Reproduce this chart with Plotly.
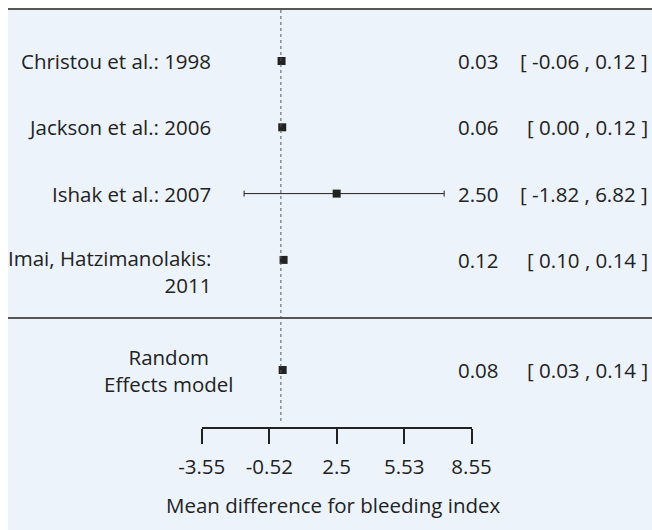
import plotly.graph_objects as go

studies = ["Christou et al.: 1998", "Jackson et al.: 2006", "Ishak et al.: 2007",
           "Imai, Hatzimanolakis:<br>2011"]
study_est = [0.03, 0.06, 2.50, 0.12]
# drawn whisker ends
study_lo = [-0.06, 0.00, -1.65, 0.10]
study_hi = [0.12, 0.12, 7.32, 0.14]
study_est_txt = ["0.03", "0.06", "2.50", "0.12"]
study_ci_txt = ["[ -0.06 , 0.12 ]", "[ 0.00 , 0.12 ]", "[ -1.82 , 6.82 ]", "[ 0.10 , 0.14 ]"]

summary_label = "Random<br>Effects model"
summary_est = 0.08
summary_lo = 0.03
summary_hi = 0.14
summary_est_txt = "0.08"
summary_ci_txt = "[ 0.03 , 0.14 ]"

tick_vals = [-3.55, -0.52, 2.5, 5.53, 8.55]
tick_text = ["-3.55", "-0.52", "2.5", "5.53", "8.55"]
x_title = "Mean difference for bleeding index"

W, H = 652, 530
BG = "#ECF3FB"
INK = "#222222"
FONT = "Open Sans"
FS = 20.5
EDGE = 8  # white border at left / top

# pixel mapping (page coordinates, body margin removed)
px_per_unit = 22.3
x0_px = 280.9
row0_px, row_step = 61, 66.3
yr = [(H - row0_px) / row_step, -row0_px / row_step]
sum_row = (370 - row0_px) / row_step

rows = list(range(len(studies)))

fig = go.Figure()
fig.add_trace(go.Scatter(
    x=study_est, y=rows, mode="markers", xaxis="x2", yaxis="y", cliponaxis=False,
    marker=dict(symbol="square", size=8, color=INK),
    error_x=dict(type="data", symmetric=False,
                 array=[h - e for h, e in zip(study_hi, study_est)],
                 arrayminus=[e - l for l, e in zip(study_lo, study_est)],
                 color=INK, thickness=1, width=3),
    hoverinfo="skip", showlegend=False))
fig.add_trace(go.Scatter(
    x=[summary_est], y=[sum_row], mode="markers", xaxis="x2", yaxis="y", cliponaxis=False,
    marker=dict(symbol="square", size=8, color=INK),
    error_x=dict(type="data", symmetric=False,
                 array=[summary_hi - summary_est], arrayminus=[summary_est - summary_lo],
                 color=INK, thickness=1, width=3),
    hoverinfo="skip", showlegend=False))

anns = []
for i, lab in enumerate(studies):
    yy = i if i < 3 else i + 11.5 / row_step
    anns.append(dict(x=213 / W, xref="paper", y=yy, yref="y", text=lab,
                     xanchor="right", align="right", showarrow=False))
    anns.append(dict(x=456 / W, xref="paper", y=i, yref="y", text=study_est_txt[i],
                     xanchor="left", showarrow=False))
    anns.append(dict(x=650 / W, xref="paper", y=i, yref="y", text=study_ci_txt[i],
                     xanchor="right", showarrow=False))
anns.append(dict(x=168 / W, xref="paper", y=sum_row, yref="y", text=summary_label,
                 xanchor="center", align="center", showarrow=False))
anns.append(dict(x=456 / W, xref="paper", y=sum_row, yref="y", text=summary_est_txt,
                 xanchor="left", showarrow=False))
anns.append(dict(x=650 / W, xref="paper", y=sum_row, yref="y", text=summary_ci_txt,
                 xanchor="right", showarrow=False))
anns.append(dict(x=333 / W, xref="paper", y=1 - 505 / H, yref="paper", text=x_title,
                 xanchor="center", yanchor="middle", showarrow=False))

shapes = [
    dict(type="rect", xref="paper", yref="paper", x0=0, x1=EDGE / W, y0=0, y1=1,
         fillcolor="white", line=dict(width=0), layer="below"),
    dict(type="rect", xref="paper", yref="paper", x0=0, x1=1, y0=1 - EDGE / H, y1=1,
         fillcolor="white", line=dict(width=0), layer="below"),
    dict(type="line", xref="paper", yref="paper", x0=EDGE / W, x1=1, y0=1 - 9 / H, y1=1 - 9 / H,
         line=dict(color=INK, width=1.5)),
    dict(type="line", xref="paper", yref="paper", x0=EDGE / W, x1=1, y0=1 - 318 / H, y1=1 - 318 / H,
         line=dict(color=INK, width=1.5)),
    dict(type="line", xref="x2", yref="paper", x0=0, x1=0, y0=1 - 10 / H, y1=1 - 424 / H,
         line=dict(color="#555555", width=1, dash="dot")),
]

fig.update_layout(
    template="none",
    width=W, height=H, margin=dict(l=0, r=0, t=0, b=0, pad=0, autoexpand=False),
    paper_bgcolor=BG, plot_bgcolor="rgba(0,0,0,0)",
    font=dict(family=FONT, size=FS, color=INK),
    xaxis=dict(visible=False, automargin=False),
    yaxis=dict(range=yr, visible=False, domain=[0, 1], showgrid=False, zeroline=False,
               automargin=False),
    xaxis2=dict(range=[tick_vals[0], tick_vals[-1]],
                domain=[(x0_px + tick_vals[0] * px_per_unit) / W,
                        (x0_px + tick_vals[-1] * px_per_unit) / W],
                anchor="free", position=1 - 428 / H, automargin=False,
                tickvals=tick_vals, ticktext=tick_text,
                ticks="outside", ticklen=15, tickcolor=INK, tickwidth=1.5,
                showline=True, linecolor=INK, linewidth=1.5,
                showgrid=False, zeroline=False, ticklabelstandoff=6,
                tickfont=dict(family=FONT, size=FS, color=INK)),
    annotations=anns, shapes=shapes,
)
fig.write_html("out.html", config={"displayModeBar": False},
               post_script="document.body.style.margin='0';"
                           "document.documentElement.style.overflow='hidden';"
                           "document.body.style.overflow='hidden';")
